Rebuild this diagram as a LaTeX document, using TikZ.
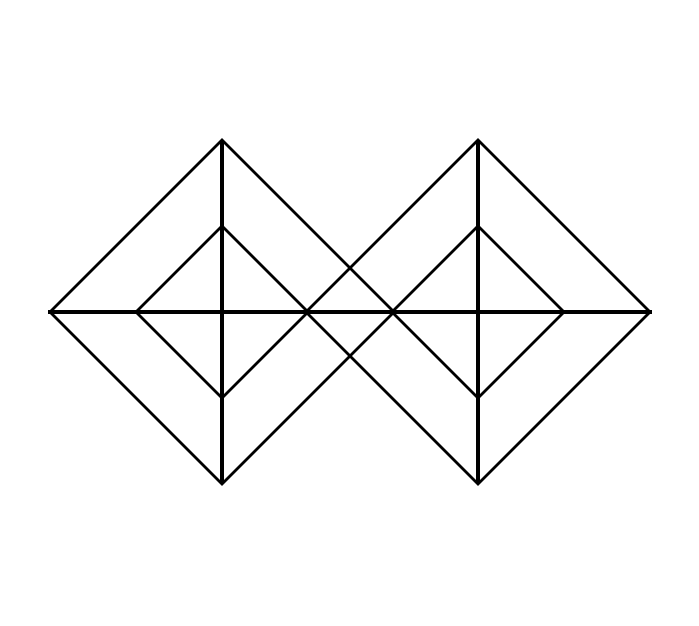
\documentclass[tikz,border=0pt]{standalone}
\usetikzlibrary{calc}
\begin{document}
\begin{tikzpicture}[x=1pt, y=1pt]
    % Styles
    \tikzstyle{edge} = [draw, black, line width=2.8pt, line join=miter]
    \tikzstyle{vaxis} = [draw, black, line width=3.2pt]
    \tikzstyle{axis} = [draw, black, line width=3.4pt]

    \useasboundingbox (0,0) rectangle (699,625);

    % --- CENTRES ---
    \coordinate (cl) at (222,313);
    \coordinate (cr) at (478,313);
    \coordinate (west) at (48,313);
    \coordinate (east) at (652,313);

    % --- DIAMONDS (outer and inner) ---
    \foreach \c in {cl,cr} {
        \foreach \r in {172,86} {
            \path [edge] ($(\c)+(-\r,0)$) -- ($(\c)+(0,\r)$) -- ($(\c)+(\r,0)$) -- ($(\c)+(0,-\r)$) -- cycle;
        }
        % vertical axis
        \path [vaxis] ($(\c)+(0,172)$) -- ($(\c)+(0,-172)$);
    }

    % --- HORIZONTAL AXIS ---
    \path [axis] (west) -- (east);

\end{tikzpicture}
\end{document}
